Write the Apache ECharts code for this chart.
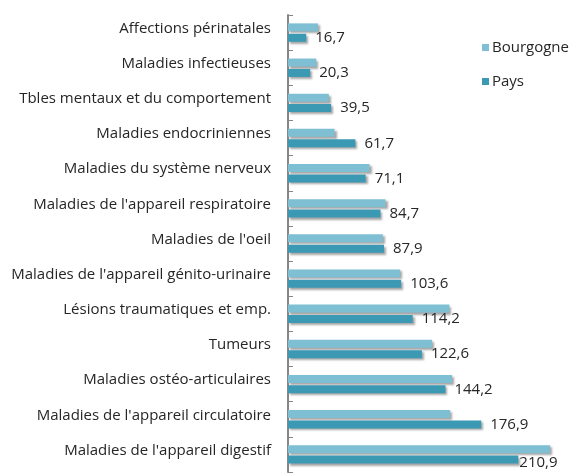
<!DOCTYPE html>
<html>
<head>
<meta charset="utf-8">
<script src="https://cdn.jsdelivr.net/npm/echarts@6/dist/echarts.min.js"></script>
<style>
  html, body { margin: 0; padding: 0; background: #fff; }
  #chart { width: 571px; height: 473px; }
</style>
</head>
<body>
<div id="chart"></div>
<script>
// données (de haut en bas)
var categories = [
    'Affections périnatales',
    'Maladies infectieuses',
    'Tbles mentaux et du comportement',
    'Maladies endocriniennes',
    'Maladies du système nerveux',
    "Maladies de l'appareil respiratoire",
    "Maladies de l'oeil",
    "Maladies de l'appareil génito-urinaire",
    'Lésions traumatiques et emp.',
    'Tumeurs',
    'Maladies ostéo-articulaires',
    "Maladies de l'appareil circulatoire",
    "Maladies de l'appareil digestif"
];
var bourgogne = [27.4, 25.9, 37.4, 42.6, 74.7, 89.3, 86.8, 102.7, 147.8, 132.0, 150.3, 148.5, 240.0];
var pays = [16.7, 20.3, 39.5, 61.7, 71.1, 84.7, 87.9, 103.6, 114.2, 122.6, 144.2, 176.9, 210.9];
var seriesNames = ['Bourgogne', 'Pays'];

var FONT = 'Open Sans';
var TEXT = '#262626';
var FS = 15;

function draw() {
    var myChart = echarts.init(document.getElementById('chart'));

    // la plus grande valeur a son étiquette collée à la barre
    var maxPays = Math.max.apply(null, pays);
    var paysData = pays.map(function (v) {
        if (v === maxPays) {
            return { value: v, label: { distance: 1, offset: [0, 3] } };
        }
        return v;
    });

    var barShadow = {
        shadowColor: 'rgba(0,0,0,0.35)',
        shadowBlur: 2,
        shadowOffsetX: 2,
        shadowOffsetY: 2
    };

    var option = {
        backgroundColor: '#fff',
        animation: false,
        textStyle: { fontFamily: FONT },
        legend: {
            orient: 'vertical',
            left: 477,
            top: 35,
            itemWidth: 7,
            itemHeight: 7,
            itemGap: 19,
            itemStyle: { shadowBlur: 0, shadowOffsetX: 0, shadowOffsetY: 0 },
            icon: 'rect',
            data: seriesNames,
            textStyle: { fontFamily: FONT, fontSize: FS, color: TEXT, padding: [0, 0, 0, -2] }
        },
        grid: {
            left: 288,
            right: 10,
            top: 15,
            bottom: 1,
            containLabel: false
        },
        xAxis: {
            type: 'value',
            min: 0,
            max: 250,
            show: false
        },
        yAxis: {
            type: 'category',
            inverse: true,
            data: categories,
            axisLine: { show: true, lineStyle: { color: '#868686', width: 2 } },
            axisTick: { show: true, inside: true, length: 5, lineStyle: { color: '#868686' } },
            axisLabel: {
                margin: 17,
                fontFamily: FONT,
                fontSize: FS,
                color: TEXT,
                verticalAlign: 'bottom',
                lineHeight: 8
            }
        },
        series: [
            {
                name: seriesNames[0],
                type: 'bar',
                data: bourgogne,
                barWidth: 8,
                barGap: '30%',
                itemStyle: Object.assign({ color: '#7ebfd3' }, barShadow)
            },
            {
                name: seriesNames[1],
                type: 'bar',
                data: paysData,
                barWidth: 8,
                itemStyle: Object.assign({ color: '#3b99b3' }, barShadow),
                label: {
                    show: true,
                    position: 'right',
                    distance: 9,
                    fontFamily: FONT,
                    fontSize: FS,
                    color: TEXT,
                    formatter: function (p) {
                        return String(p.value).replace('.', ',');
                    }
                }
            }
        ]
    };

    myChart.setOption(option, true);
}

draw();
</script>
</body>
</html>
